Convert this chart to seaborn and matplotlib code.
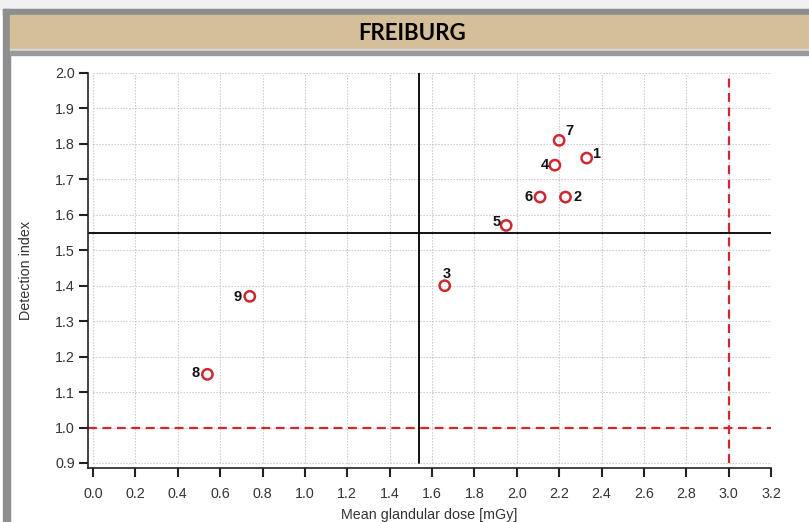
import matplotlib
matplotlib.use("Agg")
import matplotlib.pyplot as plt
from matplotlib.patches import Rectangle
import seaborn as sns
import pandas as pd

# ---- data ----
labels = ["1", "2", "3", "4", "5", "6", "7", "8", "9"]
mgd = [2.33, 2.23, 1.66, 2.18, 1.95, 2.11, 2.20, 0.54, 0.74]
det_index = [1.76, 1.65, 1.40, 1.74, 1.57, 1.65, 1.81, 1.15, 1.37]
x_ticks = [0.0, 0.2, 0.4, 0.6, 0.8, 1.0, 1.2, 1.4, 1.6, 1.8, 2.0, 2.2, 2.4, 2.6, 2.8, 3.0, 3.2]
y_ticks = [0.9, 1.0, 1.1, 1.2, 1.3, 1.4, 1.5, 1.6, 1.7, 1.8, 1.9, 2.0]
ref_x = 1.54      # black reference lines
ref_y = 1.55
limit_x = 3.0     # red dashed limits
limit_y = 1.0
title = "FREIBURG"

# label offsets in pixels (layout)
label_offsets = [(9, 4), (12, 0), (2, 12), (-10, 0), (-10, 3), (-11, 0), (10, 9), (-12, 1), (-12, -1)]

df = pd.DataFrame({"label": labels, "x": mgd, "y": det_index})

sns.set_theme(style="white")
plt.rcParams["font.family"] = ["Liberation Sans", "DejaVu Sans"]

W, H = 809, 522
fig = plt.figure(figsize=(W / 100, H / 100), dpi=100)

def frect(x0, y0, x1, y1, color):
    # pixel coords top-left origin
    fig.patches.append(Rectangle((x0 / W, 1 - y1 / H), (x1 - x0) / W, (y1 - y0) / H,
                                 transform=fig.transFigure, color=color, zorder=0))

frect(0, 0, W, 9, "#f0f0f0")
frect(3, 9, W, 15, "#8e8e8e")
frect(3, 9, 10, H, "#8e8e8e")
frect(10, 15, W, 49, "#d4bf99")
frect(10, 49, W, 51, "#d8d8d8")
frect(10, 51, W, 55, "#9a9a9a")

fig.text(0.51, 1 - 34 / H, title, ha="center", va="center", fontsize=16,
         fontweight="bold", family=["Lato", "DejaVu Sans"], color="black")

ax = fig.add_axes([88 / W, 1 - 468 / H, (771 - 88) / W, (468 - 73) / H])
ax.set_facecolor("white")

red = "#cc2a30"
ymin_d, ymax_d = 0.9, 2.0
xmin_ax, xmax_ax = -0.0236, 3.2
ymin_ax = 0.8858

ax.set_xlim(xmin_ax, xmax_ax)
ax.set_ylim(ymin_ax, ymax_d)

# grid
for xt in x_ticks:
    ax.plot([xt, xt], [ymin_d, ymax_d], color="#c4c4c4", lw=0.8, ls=(0, (1.2, 1.5)), zorder=1)
for yt in y_ticks:
    ax.plot([0.0, xmax_ax], [yt, yt], color="#c4c4c4", lw=0.8, ls=(0, (1.2, 1.5)), zorder=1)

# reference lines
ax.plot([ref_x, ref_x], [ymin_d, ymax_d], color="black", lw=1.3, zorder=2)
ax.plot([xmin_ax, xmax_ax], [ref_y, ref_y], color="black", lw=1.3, zorder=2)
ax.plot([limit_x, limit_x], [ymin_d, ymax_d], color=red, lw=1.6, ls=(0, (4, 2.5)), zorder=2)
ax.plot([xmin_ax, xmax_ax], [limit_y, limit_y], color=red, lw=1.6, ls=(0, (4, 2.5)), zorder=2)

sns.scatterplot(data=df, x="x", y="y", ax=ax, marker="o", s=55,
                facecolor="none", edgecolor=red, linewidth=1.8, zorder=4, legend=False)

for lab, xv, yv, (dx, dy) in zip(labels, mgd, det_index, label_offsets):
    ax.annotate(lab, (xv, yv), xytext=(dx * 0.72, dy * 0.72), textcoords="offset points",
                ha="center", va="center", fontsize=10.5, fontweight="bold", color="#111111",
                zorder=5)

ax.set_xticks(x_ticks)
ax.set_yticks(y_ticks)
ax.set_xticklabels([f"{v:.1f}" for v in x_ticks])
ax.set_yticklabels([f"{v:.1f}" for v in y_ticks])
ax.tick_params(axis="both", which="major", direction="out", length=6.5, width=1.5,
               color="#222222", labelsize=10.3, labelcolor="#333333", pad=3,
               bottom=True, left=True)
ax.tick_params(axis="x", pad=7)

for s in ["top", "right"]:
    ax.spines[s].set_visible(False)
for s in ["left", "bottom"]:
    ax.spines[s].set_color("#222222")
    ax.spines[s].set_linewidth(1.2)

ax.set_xlabel("Mean glandular dose [mGy]", fontsize=10.3, color="#333333", labelpad=5)
ax.set_ylabel("Detection index", fontsize=10.3, color="#333333", labelpad=16)
ax.grid(False)

fig.savefig("out.png", dpi=100)
